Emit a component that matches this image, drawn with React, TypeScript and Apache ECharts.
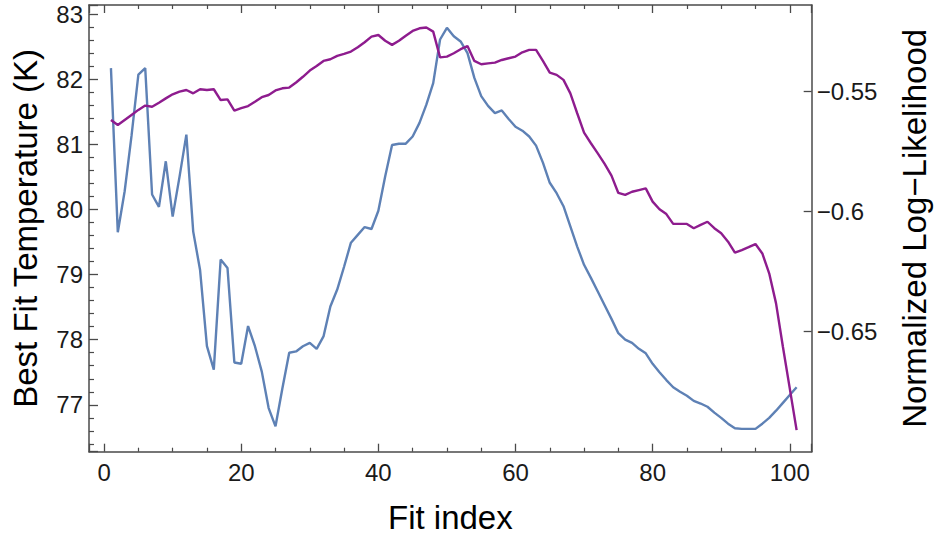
import React, { useEffect, useRef } from "react";
import * as echarts from "echarts";

// Best-fit temperature (K) for each fit, index 1..101
const temperature: number[] = [
  82.17, 79.65, 80.28, 81.13, 82.07, 82.17, 80.23, 80.04, 80.74, 79.89,
  80.5, 81.15, 79.66, 79.07, 77.9, 77.54, 79.23, 79.1, 77.65, 77.63,
  78.21, 77.9, 77.51, 76.95, 76.67, 77.25, 77.8, 77.82, 77.9, 77.95,
  77.86, 78.05, 78.51, 78.77, 79.12, 79.49, 79.61, 79.73, 79.7, 79.98,
  80.51, 80.99, 81.01, 81.01, 81.12, 81.33, 81.61, 81.94, 82.61, 82.79,
  82.66, 82.58, 82.4, 82.02, 81.74, 81.59, 81.48, 81.52, 81.39, 81.27,
  81.21, 81.12, 80.98, 80.72, 80.41, 80.25, 80.05, 79.74, 79.43, 79.15,
  78.95, 78.74, 78.53, 78.32, 78.1, 78.0, 77.95, 77.86, 77.79, 77.63,
  77.5, 77.38, 77.27, 77.2, 77.14, 77.06, 77.02, 76.97, 76.88, 76.8,
  76.71, 76.64, 76.63, 76.63, 76.63, 76.71, 76.8, 76.91, 77.03, 77.15,
  77.27,
];

// Normalized log-likelihood for each fit
const logLikelihood: number[] = [
  -0.5618, -0.5639, -0.5618, -0.5597, -0.5576, -0.5558, -0.5563, -0.5546, -0.5528, -0.5511,
  -0.55, -0.5493, -0.5507, -0.549, -0.5493, -0.549, -0.5535, -0.5532, -0.5579, -0.5569,
  -0.556, -0.5542, -0.5523, -0.5514, -0.5495, -0.5486, -0.5483, -0.5462, -0.5438, -0.5412,
  -0.5393, -0.5372, -0.5365, -0.5351, -0.5343, -0.5333, -0.5315, -0.5294, -0.5271, -0.5264,
  -0.5288, -0.5305, -0.5288, -0.5267, -0.5247, -0.5236, -0.5233, -0.525, -0.5357, -0.5354,
  -0.534, -0.5323, -0.531, -0.5372, -0.5386, -0.5382, -0.5379, -0.5368, -0.5361, -0.5354,
  -0.5336, -0.5326, -0.5326, -0.5372, -0.5421, -0.543, -0.5451, -0.5507, -0.559, -0.5671,
  -0.5715, -0.5757, -0.5801, -0.585, -0.5922, -0.593, -0.5917, -0.591, -0.5903, -0.5958,
  -0.599, -0.601, -0.6051, -0.6051, -0.6051, -0.6069, -0.6055, -0.6042, -0.6069, -0.609,
  -0.6125, -0.6171, -0.616, -0.6148, -0.6135, -0.6174, -0.6257, -0.6382, -0.6563, -0.6736,
  -0.691,
];

const fitIndex: number[] = temperature.map((_, i) => i + 1);

const FONT = "'Liberation Sans', Arial, sans-serif";
const FRAME = "#4a4a4a";
const LABEL = "#1a1a1a";

const frameLine = { show: true, onZero: false, lineStyle: { color: FRAME, width: 1.5 } };

export default function App() {
  const ref = useRef<HTMLDivElement>(null);

  useEffect(() => {
    if (!ref.current) return;
    const chart = echarts.init(ref.current, null, { renderer: "svg" });

    const xCommon = {
      type: "value" as const,
      min: -2.2,
      max: 103.2,
      splitNumber: 5,
      axisLine: frameLine,
      splitLine: { show: false },
      axisTick: { show: true, inside: true, length: 8, lineStyle: { color: FRAME, width: 1.3 } },
      minorTick: { show: true, splitNumber: 4, length: 4, lineStyle: { color: FRAME, width: 1.2 } },
    };

    chart.setOption({
      animation: false,
      backgroundColor: "#ffffff",
      grid: { left: 89, top: 5, right: 123.3, bottom: 83.3, containLabel: false, outerBoundsMode: "none" },
      xAxis: [
        {
          ...xCommon,
          position: "bottom",
          name: "Fit index",
          nameLocation: "middle",
          nameGap: 49,
          nameTextStyle: { fontFamily: FONT, fontSize: 33, color: "#000" },
          axisLabel: {
            show: true,
            margin: 9,
            fontFamily: FONT,
            fontSize: 24,
            color: LABEL,
            showMinLabel: false,
            showMaxLabel: false,
          },
        },
        {
          ...xCommon,
          position: "top",
          axisLabel: { show: false },
        },
      ],
      yAxis: [
        {
          type: "value",
          position: "left",
          min: 76.28,
          max: 83.14,
          splitNumber: 6,
          axisLine: frameLine,
          splitLine: { show: false },
          axisTick: { show: true, inside: true, length: 9, lineStyle: { color: FRAME, width: 1.3 } },
          minorTick: { show: true, splitNumber: 5, length: 5, lineStyle: { color: FRAME, width: 1.2 } },
          axisLabel: {
            margin: 6,
            fontFamily: FONT,
            fontSize: 24,
            color: LABEL,
            showMinLabel: false,
            showMaxLabel: false,
          },
          name: "Best Fit Temperature (K)",
          nameLocation: "middle",
          nameRotate: 90,
          nameGap: 47,
          nameTextStyle: { fontFamily: FONT, fontSize: 33, color: "#000" },
        },
        {
          type: "value",
          position: "right",
          min: -0.7,
          max: -0.5139,
          splitNumber: 4,
          axisLine: frameLine,
          splitLine: { show: false },
          axisTick: { show: true, inside: true, length: 8, lineStyle: { color: FRAME, width: 1.3 } },
          minorTick: { show: false },
          axisLabel: {
            margin: 5,
            fontFamily: FONT,
            fontSize: 24,
            color: LABEL,
            showMinLabel: false,
            showMaxLabel: false,
            formatter: (v: number) => String(Number(v.toFixed(4))).replace("-", "\u2212"),
          },
          name: "Normalized Log\u2212Likelihood",
          nameLocation: "middle",
          nameRotate: 90,
          nameGap: 86,
          nameTextStyle: { fontFamily: FONT, fontSize: 33, color: "#000" },
        },
      ],
      series: [
        {
          name: "Best Fit Temperature",
          type: "line",
          xAxisIndex: 0,
          yAxisIndex: 0,
          showSymbol: false,
          symbol: "none",
          data: fitIndex.map((x, i) => [x, temperature[i]]),
          lineStyle: { color: "#5E81B5", width: 2.4 },
          z: 2,
        },
        {
          name: "Normalized Log-Likelihood",
          type: "line",
          xAxisIndex: 0,
          yAxisIndex: 1,
          showSymbol: false,
          symbol: "none",
          data: fitIndex.map((x, i) => [x, logLikelihood[i]]),
          lineStyle: { color: "#8E1C8E", width: 2.4 },
          z: 3,
        },
      ],
    });

    return () => chart.dispose();
  }, []);

  return (
    <div
      ref={ref}
      style={{ position: "fixed", left: 0, top: 0, width: 935, height: 535, background: "#fff" }}
    />
  );
}
